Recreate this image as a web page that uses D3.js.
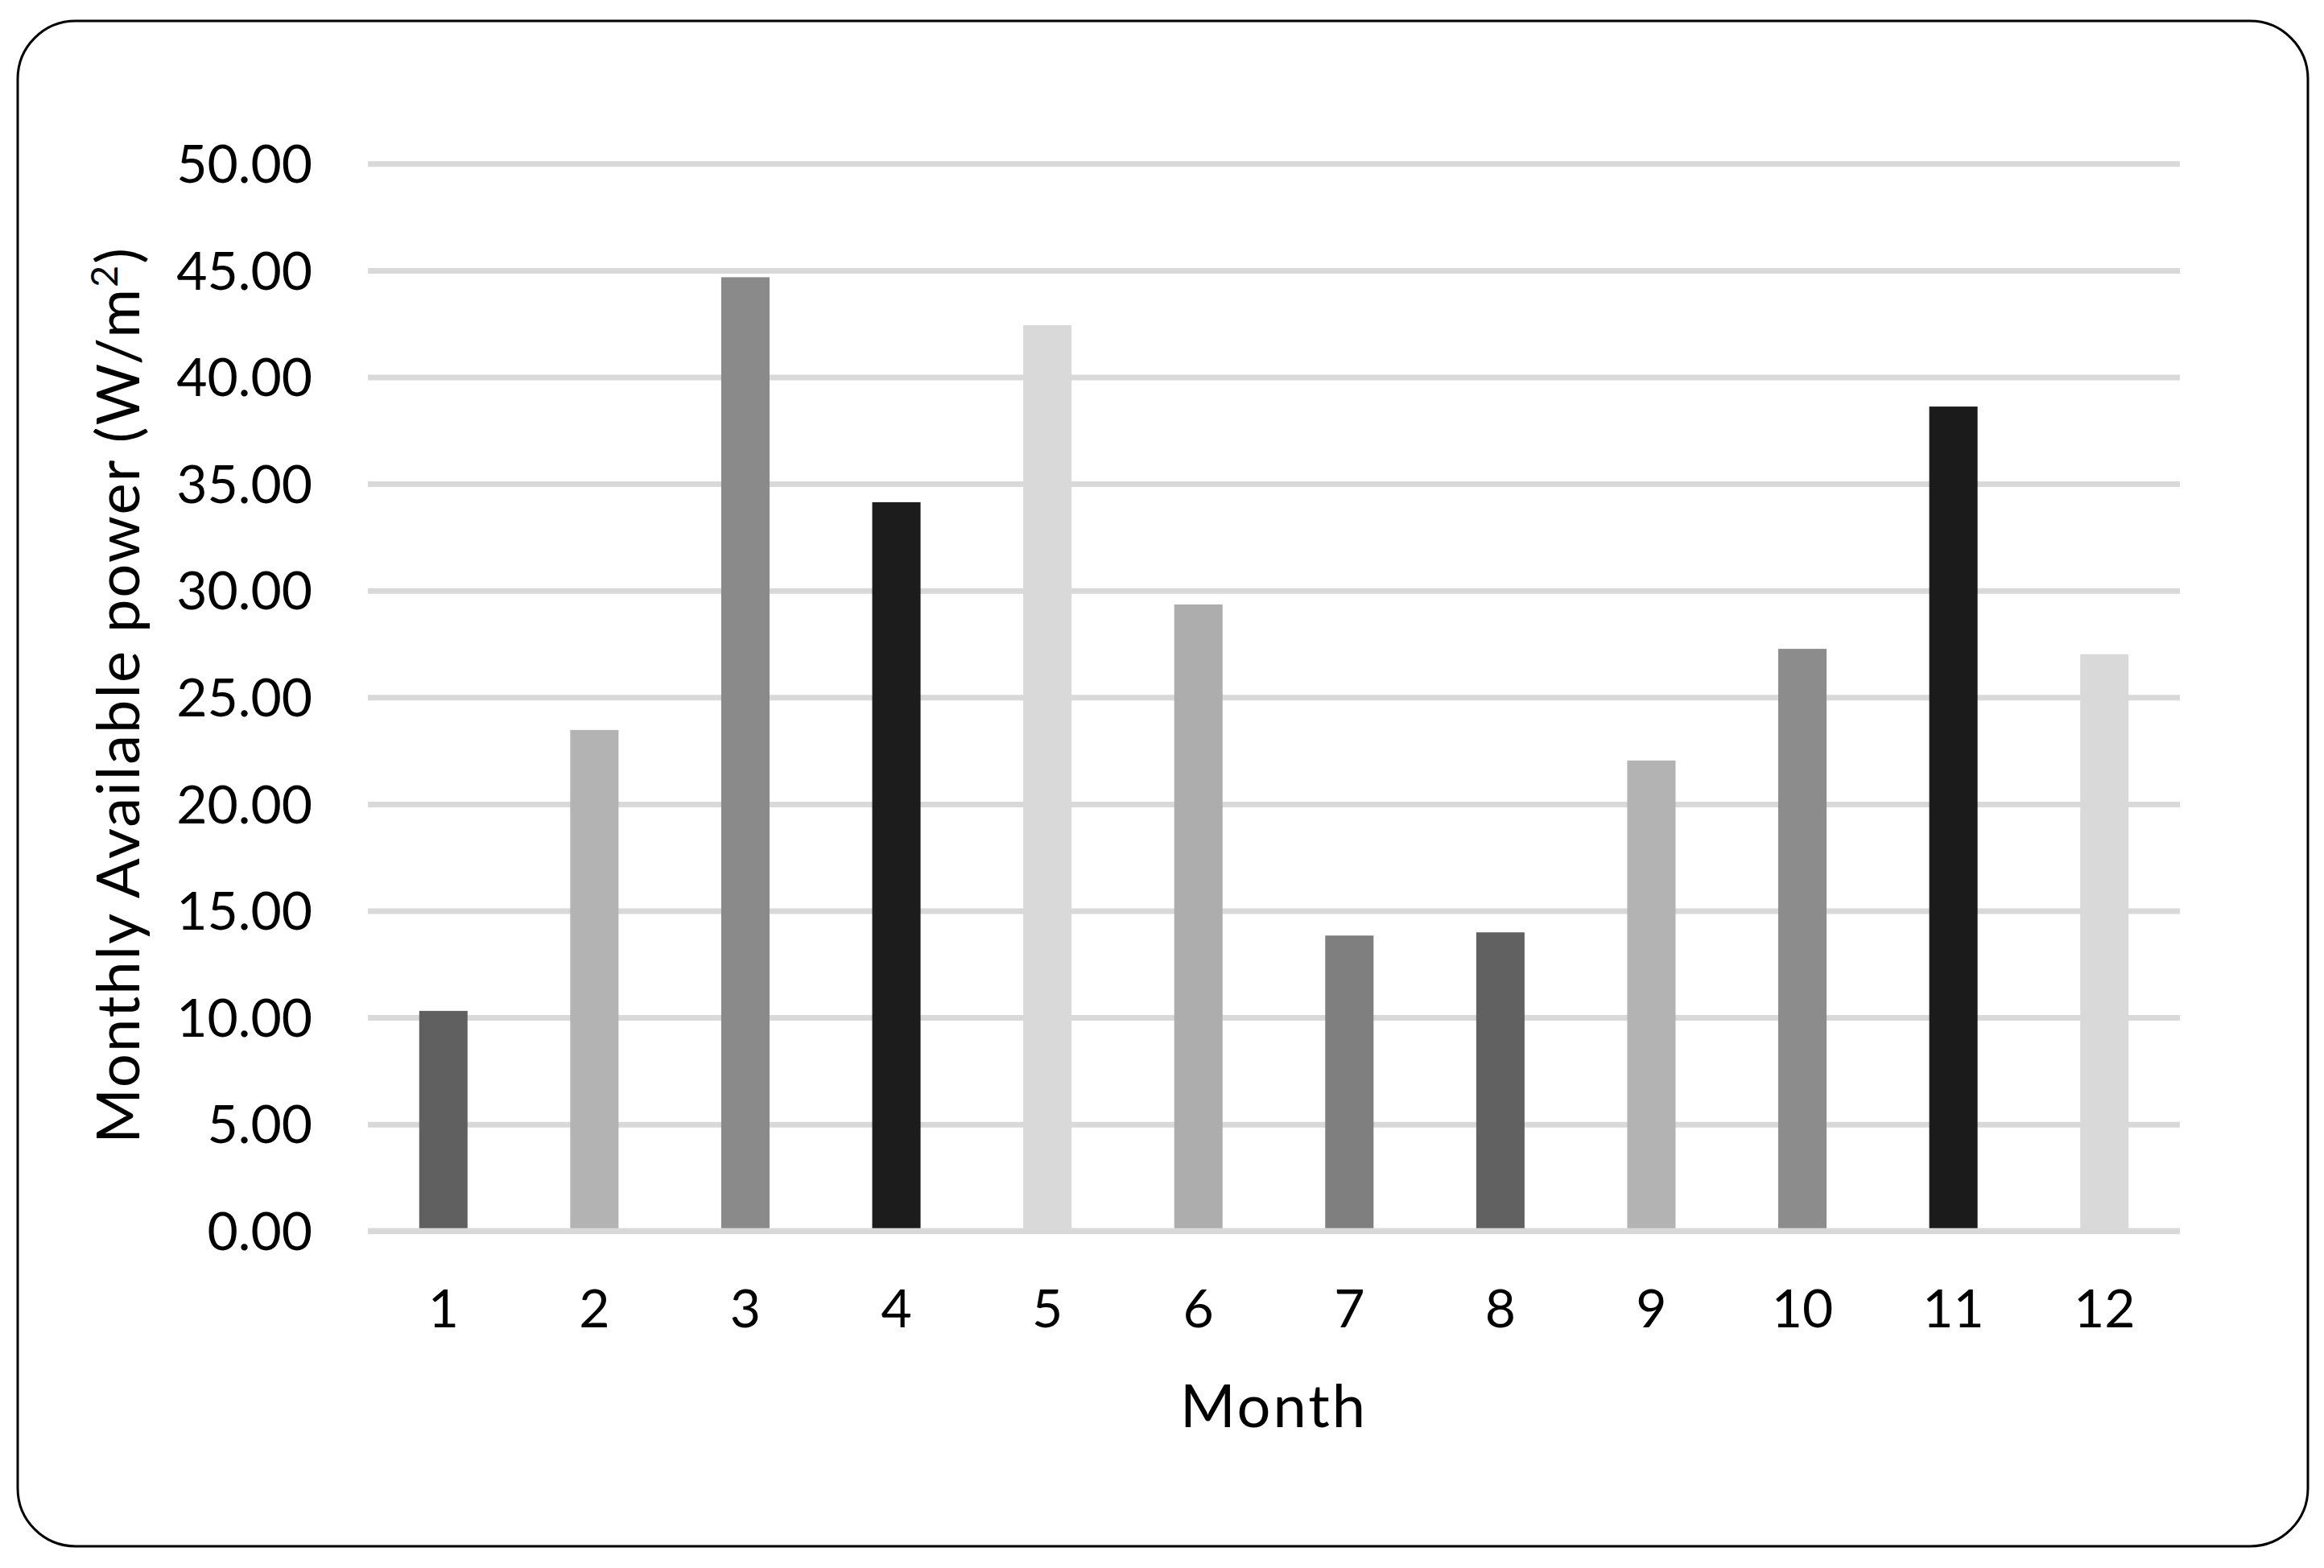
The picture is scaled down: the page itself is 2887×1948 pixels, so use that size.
<!DOCTYPE html>
<html>
<head>
<meta charset="utf-8">
<script src="https://cdn.jsdelivr.net/npm/d3@7"></script>
<style>
  html, body { margin: 0; padding: 0; background: #fff; }
  svg { display: block; }
  text { font-family: "Lato", "Open Sans", sans-serif; fill: #000; }
</style>
</head>
<body>
<svg id="chart" width="2887" height="1948"></svg>
<script>
// ---- data ----
const months = ["1","2","3","4","5","6","7","8","9","10","11","12"];
const power = [10.31, 23.47, 44.68, 34.14, 42.43, 29.35, 13.84, 13.99, 22.04, 27.27, 38.62, 27.02];
const barColors = ["#606060","#b3b3b3","#8a8a8a","#1c1c1c","#d9d9d9","#adadad","#7f7f7f","#616161","#b3b3b3","#8c8c8c","#1b1b1b","#d9d9d9"];
const yTicks = [0, 5, 10, 15, 20, 25, 30, 35, 40, 45, 50];
const xTitle = "Month";
const yTitle = "Monthly Available power (W/m";

// ---- layout ----
const W = 2887, H = 1948;
const plot = { left: 457, right: 2708, top: 203.3, bottom: 1529.3 };

const svg = d3.select("#chart");

// outer rounded border
svg.append("rect")
  .attr("x", 22).attr("y", 26)
  .attr("width", 2845).attr("height", 1895)
  .attr("rx", 72).attr("ry", 72)
  .attr("fill", "#fff")
  .attr("stroke", "#000")
  .attr("stroke-width", 3);

const x = d3.scaleBand()
  .domain(months)
  .range([plot.left, plot.right])
  .paddingInner(0.68)
  .paddingOuter(0.34);

const y = d3.scaleLinear()
  .domain([0, 50])
  .range([plot.bottom, plot.top]);

// gridlines (behind bars)
const grid = svg.append("g")
  .attr("transform", `translate(${plot.left},0)`)
  .call(d3.axisLeft(y).tickValues(yTicks).tickSize(-(plot.right - plot.left)).tickFormat(""));
grid.select(".domain").remove();
grid.selectAll(".tick line").attr("stroke", "#d9d9d9").attr("stroke-width", 7);

// bars
svg.append("g")
  .selectAll("rect")
  .data(power)
  .join("rect")
  .attr("x", (d, i) => x(months[i]))
  .attr("y", d => y(d))
  .attr("width", x.bandwidth())
  .attr("height", d => y(0) - y(d))
  .attr("fill", (d, i) => barColors[i]);

// zero axis line on top
svg.append("line")
  .attr("x1", plot.left).attr("x2", plot.right)
  .attr("y1", y(0)).attr("y2", y(0))
  .attr("stroke", "#d9d9d9").attr("stroke-width", 7);

// y axis labels
const yAxis = svg.append("g")
  .attr("transform", `translate(388,0)`)
  .call(d3.axisLeft(y).tickValues(yTicks).tickSize(0).tickPadding(0).tickFormat(d3.format(".2f")));
yAxis.select(".domain").remove();
yAxis.selectAll("text")
  .attr("font-size", 66)
  .attr("font-family", "Lato")
  .attr("fill", "#000")
  .attr("dy", "0.35em");

// x axis labels
const xAxis = svg.append("g")
  .attr("transform", `translate(0,${1649})`)
  .call(d3.axisBottom(x).tickSize(0).tickPadding(0));
xAxis.select(".domain").remove();
xAxis.selectAll("text")
  .attr("font-size", 66)
  .attr("font-family", "Lato")
  .attr("fill", "#000")
  .attr("dy", 0);

// x title
svg.append("text")
  .attr("x", (plot.left + plot.right) / 2)
  .attr("y", 1773)
  .attr("text-anchor", "middle")
  .attr("font-size", 74)
  .attr("letter-spacing", 3)
  .text(xTitle);

// y title
const yt = svg.append("text")
  .attr("transform", `translate(173,${(plot.top + plot.bottom) / 2 - 3}) rotate(-90)`)
  .attr("text-anchor", "middle")
  .attr("font-size", 74)
  .attr("letter-spacing", 2);
yt.append("tspan").text(yTitle);
yt.append("tspan").attr("font-size", 47).attr("dy", -27).text("2");
yt.append("tspan").attr("dy", 27).text(")");
</script>
</body>
</html>
